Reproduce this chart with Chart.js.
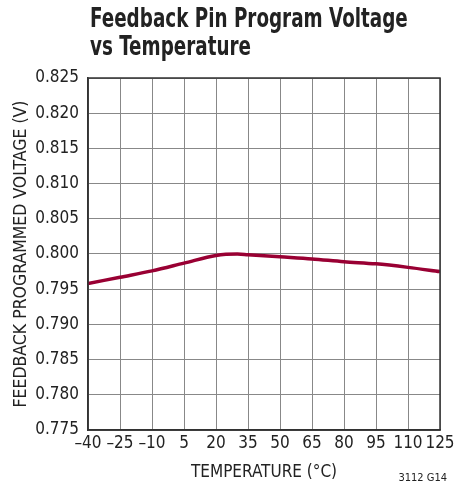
<!DOCTYPE html>
<html>
<head>
<meta charset="utf-8">
<script src="https://cdn.jsdelivr.net/npm/chart.js@4"></script>
<style>
  html, body { margin: 0; padding: 0; background: #fff; }
  #wrap { position: relative; width: 455px; height: 487px; }
  #title {
    position: absolute; left: 90px; top: 4px;
    font-family: "DejaVu Sans Condensed", "Liberation Sans", sans-serif;
    font-weight: bold; font-size: 27px; line-height: 28px; color: #222;
    white-space: nowrap; transform-origin: 0 0;
  }
  #code {
    position: absolute; right: 8px; top: 471px;
    font-family: "DejaVu Sans Condensed", "Liberation Sans", sans-serif;
    font-size: 11px; color: #222;
  }
</style>
</head>
<body>
<div id="wrap">
  <canvas id="chart" width="455" height="487"></canvas>
  <div id="title">Feedback Pin Program Voltage<br>vs Temperature</div>
  <div id="code">3112 G14</div>
</div>
<script>
// data
const temps = [-40, -25, -10, 5, 20, 30, 35, 50, 65, 80, 95, 110, 125];
const volts = [0.7958, 0.7967, 0.7976, 0.7987, 0.7998, 0.8000, 0.7999, 0.7996, 0.7993, 0.7989, 0.7986, 0.7981, 0.7975];
const xTicks = [-40, -25, -10, 5, 20, 35, 50, 65, 80, 95, 110, 125];
const yTicks = [0.775, 0.780, 0.785, 0.790, 0.795, 0.800, 0.805, 0.810, 0.815, 0.820, 0.825];

const font = "'DejaVu Sans Condensed', 'Liberation Sans', sans-serif";

// squeeze the title to the width of the reference
const titleEl = document.getElementById('title');
titleEl.style.transform = 'scaleX(' + (318 / titleEl.scrollWidth) + ')';

// frame around the plot area
const framePlugin = {
    id: 'frame',
    afterDraw(chart) {
        const a = chart.chartArea;
        const ctx = chart.ctx;
        ctx.save();
        ctx.strokeStyle = '#333';
        ctx.lineWidth = 1.5;
        ctx.strokeRect(a.left, a.top, a.right - a.left, a.bottom - a.top);
        ctx.restore();
    }
};

const ctx = document.getElementById('chart').getContext('2d');
new Chart(ctx, {
    type: 'line',
    data: {
        datasets: [{
            data: temps.map((t, i) => ({ x: t, y: volts[i] })),
            borderColor: '#990033',
            borderWidth: 3.5,
            pointRadius: 0,
            cubicInterpolationMode: 'monotone',
            fill: false
        }]
    },
    options: {
        responsive: false,
        animation: false,
        layout: { padding: { top: 78, right: 15, left: 0, bottom: 0 } },
        plugins: { legend: { display: false }, tooltip: { enabled: false } },
        scales: {
            x: {
                type: 'linear',
                min: -40, max: 125,
                afterBuildTicks: scale => { scale.ticks = xTicks.map(v => ({ value: v })); },
                afterFit: scale => { scale.height = 57; scale.paddingLeft = 0; scale.paddingRight = 0; },
                ticks: {
                    color: '#222', font: { family: font, size: 17 }, padding: 3, maxRotation: 0, autoSkip: false,
                    callback: v => String(v).replace('-', '\u2013')
                },
                grid: { color: '#888', lineWidth: 1, drawTicks: false },
                border: { color: '#333', width: 1.5 },
                title: { display: true, text: 'TEMPERATURE (\u00B0C)', color: '#222', font: { family: font, size: 17 }, padding: { top: 2 } }
            },
            y: {
                min: 0.775, max: 0.825,
                afterBuildTicks: scale => { scale.ticks = yTicks.map(v => ({ value: v })); },
                afterFit: scale => { scale.width = 88; scale.paddingTop = 0; scale.paddingBottom = 0; },
                ticks: {
                    color: '#222', font: { family: font, size: 17 }, padding: 9, autoSkip: false,
                    callback: v => v.toFixed(3)
                },
                grid: { color: '#888', lineWidth: 1, drawTicks: false },
                border: { color: '#333', width: 1.5 },
                title: { display: true, text: 'FEEDBACK PROGRAMMED VOLTAGE (V)', color: '#222', font: { family: font, size: 17.5 }, padding: { top: 11, bottom: 0 } }
            }
        }
    },
    plugins: [framePlugin]
});
</script>
</body>
</html>
